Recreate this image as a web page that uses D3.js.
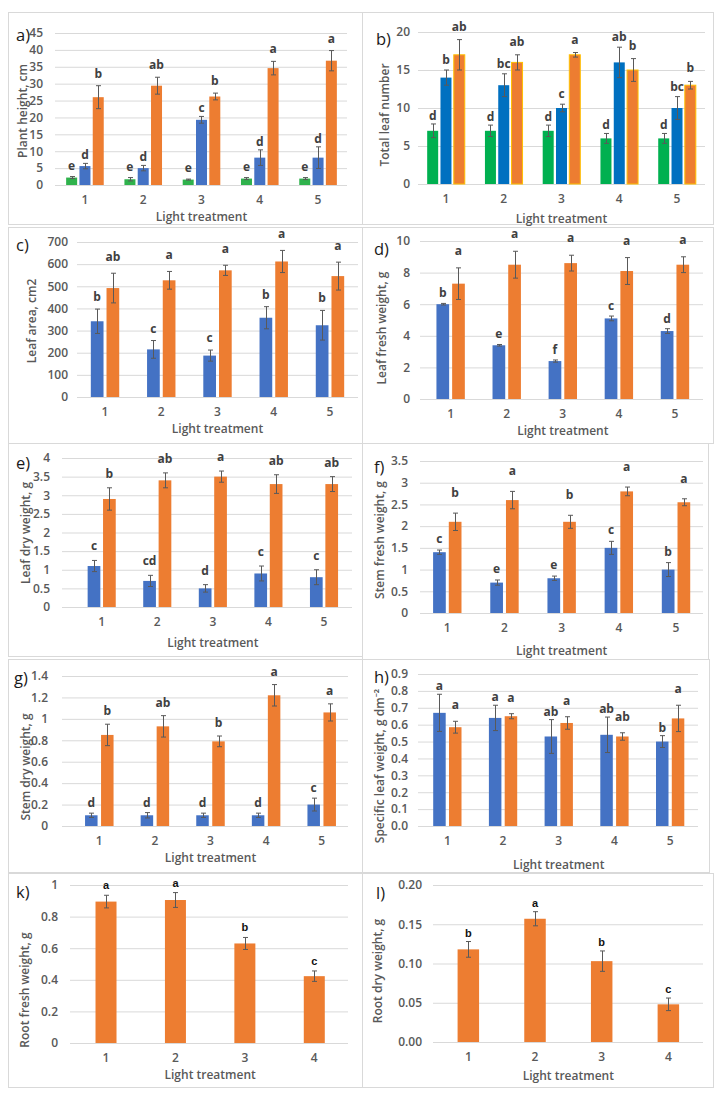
<!DOCTYPE html>
<html><head><meta charset="utf-8">
<script src="https://cdn.jsdelivr.net/npm/d3@7"></script>
<style>body{margin:0;background:#fff}</style>
</head><body>
<svg id="fig" width="725" height="1100"></svg>
<script>
// ---------- DATA ----------
const cats5 = ["1", "2", "3", "4", "5"];
const cats4 = ["1", "2", "3", "4"];

// a) Plant height, cm
const heightGreen = [2.2, 1.7, 1.6, 1.9, 1.9];
const heightGreenErr = [0.3, 0.5, 0.15, 0.3, 0.3];
const heightGreenSig = ["e", "e", "e", "e", "e"];
const heightBlue = [5.6, 5.0, 19.3, 8.1, 8.1];
const heightBlueErr = [0.8, 0.8, 1.0, 2.3, 3.2];
const heightBlueSig = ["d", "d", "c", "d", "d"];
const heightOrange = [26.0, 29.4, 26.2, 34.6, 36.8];
const heightOrangeErr = [3.4, 2.5, 1.0, 2.0, 3.0];
const heightOrangeSig = ["b", "ab", "b", "a", "a"];
const heightTicks = [0, 5, 10, 15, 20, 25, 30, 35, 40, 45];

// b) Total leaf number
const leafGreen = [7, 7, 7, 6, 6];
const leafGreenErr = [0.9, 0.75, 0.75, 0.65, 0.65];
const leafGreenSig = ["d", "d", "d", "d", "d"];
const leafBlue = [14, 13, 10, 16, 10];
const leafBlueErr = [1.0, 1.5, 0.5, 2.0, 1.5];
const leafBlueSig = ["b", "bc", "c", "ab", "bc"];
const leafOrange = [17, 16, 17, 15, 13];
const leafOrangeErr = [2.0, 1.0, 0.3, 1.5, 0.5];
const leafOrangeSig = ["ab", "ab", "a", "b", "b"];
const leafTicks = [0, 5, 10, 15, 20];

// c) Leaf area, cm2
const areaBlue = [342, 215, 187, 358, 324];
const areaBlueErr = [55, 40, 25, 50, 67];
const areaBlueSig = ["b", "c", "c", "b", "b"];
const areaOrange = [492, 527, 572, 612, 546];
const areaOrangeErr = [67, 40, 23, 50, 63];
const areaOrangeSig = ["ab", "a", "a", "a", "a"];
const areaTicks = [0, 100, 200, 300, 400, 500, 600, 700];

// d) Leaf fresh weight, g
const lfwBlue = [6.0, 3.4, 2.4, 5.1, 4.3];
const lfwBlueErr = [0.05, 0.05, 0.07, 0.15, 0.15];
const lfwBlueSig = ["b", "e", "f", "c", "d"];
const lfwOrange = [7.3, 8.5, 8.6, 8.1, 8.5];
const lfwOrangeErr = [1.0, 0.85, 0.5, 0.85, 0.5];
const lfwOrangeSig = ["a", "a", "a", "a", "a"];
const lfwTicks = [0, 2, 4, 6, 8, 10];

// e) Leaf dry weight, g
const ldwBlue = [1.1, 0.7, 0.5, 0.9, 0.8];
const ldwBlueErr = [0.15, 0.15, 0.1, 0.2, 0.2];
const ldwBlueSig = ["c", "cd", "d", "c", "c"];
const ldwOrange = [2.9, 3.4, 3.5, 3.3, 3.3];
const ldwOrangeErr = [0.3, 0.2, 0.15, 0.25, 0.2];
const ldwOrangeSig = ["b", "ab", "a", "ab", "ab"];
const ldwTicks = [0, 0.5, 1, 1.5, 2, 2.5, 3, 3.5, 4];

// f) Stem fresh weight, g
const sfwBlue = [1.4, 0.7, 0.8, 1.5, 1.0];
const sfwBlueErr = [0.05, 0.06, 0.05, 0.15, 0.16];
const sfwBlueSig = ["c", "e", "e", "c", "b"];
const sfwOrange = [2.1, 2.6, 2.1, 2.8, 2.55];
const sfwOrangeErr = [0.2, 0.2, 0.15, 0.1, 0.08];
const sfwOrangeSig = ["b", "a", "b", "a", "a"];
const sfwTicks = [0, 0.5, 1, 1.5, 2, 2.5, 3, 3.5];

// g) Stem dry weight, g
const sdwBlue = [0.1, 0.1, 0.1, 0.1, 0.2];
const sdwBlueErr = [0.02, 0.025, 0.02, 0.02, 0.06];
const sdwBlueSig = ["d", "d", "d", "d", "c"];
const sdwOrange = [0.85, 0.93, 0.79, 1.22, 1.06];
const sdwOrangeErr = [0.1, 0.1, 0.05, 0.1, 0.08];
const sdwOrangeSig = ["b", "ab", "b", "a", "a"];
const sdwTicks = [0, 0.2, 0.4, 0.6, 0.8, 1, 1.2, 1.4];

// h) Specific leaf weight, g dm-2
const slwBlue = [0.67, 0.64, 0.53, 0.54, 0.50];
const slwBlueErr = [0.11, 0.075, 0.10, 0.105, 0.035];
const slwBlueSig = ["a", "a", "ab", "ab", "b"];
const slwOrange = [0.585, 0.65, 0.61, 0.53, 0.637];
const slwOrangeErr = [0.035, 0.015, 0.037, 0.022, 0.078];
const slwOrangeSig = ["a", "a", "a", "ab", "a"];
const slwTicks = [0, 0.1, 0.2, 0.3, 0.4, 0.5, 0.6, 0.7, 0.8, 0.9];

// k) Root fresh weight, g
const rfwOrange = [0.895, 0.905, 0.63, 0.423];
const rfwOrangeErr = [0.04, 0.047, 0.038, 0.033];
const rfwOrangeSig = ["a", "a", "b", "c"];
const rfwTicks = [0, 0.2, 0.4, 0.6, 0.8, 1];

// l) Root dry weight, g
const rdwOrange = [0.118, 0.157, 0.103, 0.048];
const rdwOrangeErr = [0.01, 0.009, 0.013, 0.008];
const rdwOrangeSig = ["b", "a", "b", "c"];
const rdwTicks = [0, 0.05, 0.10, 0.15, 0.20];

// ---------- STYLE / LAYOUT ----------
const C = {
  greenA: "#2FB24C", blueA: "#4472C4", orange: "#ED7D31",
  greenB: "#00B050", blueB: "#0070C0", goldB: "#FFC000",
  grid: "#D9D9D9", text: "#595959", sig: "#404040", err: "#595959"
};
const FONT = "'Open Sans', 'Noto Sans', sans-serif";
const gen = d => String(+d.toFixed(4));

const panels = [
  { tag: "a)", box: [8, 12, 362, 224], grid: [55, 347], band: [55.8, 347.2], yr: [185, 33], domain: [0, 45],
    ticks: heightTicks, fmt: gen, pad: 12, tagPos: [16, 41], yt: "Plant height, cm", ytPos: [23, 111], xtY: 220,
    cats: cats5, barW: 11, gap: 2.3, letter: "mid",
    series: [
      { v: heightGreen, e: heightGreenErr, s: heightGreenSig, fill: C.greenA, lg: 7 },
      { v: heightBlue, e: heightBlueErr, s: heightBlueSig, fill: C.blueA, lg: 4 },
      { v: heightOrange, e: heightOrangeErr, s: heightOrangeSig, fill: C.orange, lg: 8 }] },
  { tag: "b)", box: [362, 12, 713, 224], grid: [418, 705], band: [417.1, 705.9], yr: [184, 32], domain: [0, 20],
    ticks: leafTicks, fmt: gen, pad: 8, tagPos: [376, 45], yt: "Total leaf number", ytPos: [385, 115], xtY: 223,
    cats: cats5, barW: 11, gap: 2.3, letter: "mid",
    series: [
      { v: leafGreen, e: leafGreenErr, s: leafGreenSig, fill: C.greenB, lg: 4 },
      { v: leafBlue, e: leafBlueErr, s: leafBlueSig, fill: C.blueB, lg: 6 },
      { v: leafOrange, e: leafOrangeErr, s: leafOrangeSig, fill: C.orange, stroke: C.goldB, lg: 9 }] },
  { tag: "c)", box: [8, 227, 362, 443], grid: [77, 358], band: [76.9, 358.1], yr: [397, 242], domain: [0, 700],
    ticks: areaTicks, fmt: gen, pad: 9, tagPos: [16, 251], yt: "Leaf area, cm2", ytPos: [32, 321], xtY: 432,
    cats: cats5, barW: 12.7, gap: 3, letter: "mid",
    series: [
      { v: areaBlue, e: areaBlueErr, s: areaBlueSig, fill: C.blueA, lg: 8 },
      { v: areaOrange, e: areaOrangeErr, s: areaOrangeSig, fill: C.orange, lg: 12 }] },
  { tag: "d)", box: [362, 227, 713, 443], grid: [420, 703], band: [422.6, 703], yr: [399, 241], domain: [0, 10],
    ticks: lfwTicks, fmt: gen, pad: 10, tagPos: [374, 255], yt: "Leaf fresh weight, g", ytPos: [382, 328], xtY: 434,
    cats: cats5, barW: 12.7, gap: 3, letter: "mid",
    series: [
      { v: lfwBlue, e: lfwBlueErr, s: lfwBlueSig, fill: C.blueA, lg: 6 },
      { v: lfwOrange, e: lfwOrangeErr, s: lfwOrangeSig, fill: C.orange, lg: 13 }] },
  { tag: "e)", box: [8, 443, 362, 656], grid: [62, 352], band: [73.9, 351.8], yr: [607, 458], domain: [0, 4],
    ticks: ldwTicks, fmt: gen, pad: 12, tagPos: [16, 469], yt: "Leaf dry weight, g", ytPos: [26, 533], xtY: 647,
    cats: cats5, barW: 12.7, gap: 2.7, letter: "mid",
    series: [
      { v: ldwBlue, e: ldwBlueErr, s: ldwBlueSig, fill: C.blueA, lg: 10 },
      { v: ldwOrange, e: ldwOrangeErr, s: ldwOrangeSig, fill: C.orange, lg: 10 }] },
  { tag: "f)", box: [362, 443, 708, 660], grid: [420, 703], band: [418.7, 704.6], yr: [613, 461], domain: [0, 3.5],
    ticks: sfwTicks, fmt: gen, pad: 12, tagPos: [374, 473], yt: "Stem fresh weight, g", ytPos: [380, 540], xtY: 655,
    cats: cats5, barW: 12.7, gap: 3, letter: "mid",
    series: [
      { v: sfwBlue, e: sfwBlueErr, s: sfwBlueSig, fill: C.blueA, lg: 7 },
      { v: sfwOrange, e: sfwOrangeErr, s: sfwOrangeSig, fill: C.orange, lg: 16 }] },
  { tag: "g)", box: [8, 659, 362, 872], grid: [62, 348], band: [71.5, 349.5], yr: [826, 676], domain: [0, 1.4],
    ticks: sdwTicks, fmt: gen, pad: 14, tagPos: [14, 684], yt: "Stem dry weight, g", ytPos: [26, 767], xtY: 862,
    cats: cats5, barW: 12.5, gap: 3.5, letter: "mid",
    series: [
      { v: sdwBlue, e: sdwBlueErr, s: sdwBlueSig, fill: C.blueA, lg: 6 },
      { v: sdwOrange, e: sdwOrangeErr, s: sdwOrangeSig, fill: C.orange, lg: 9 }] },
  { tag: "h)", box: [362, 659, 709, 872], grid: [418, 698], band: [419.5, 698], yr: [826, 674], domain: [0, 0.9],
    ticks: slwTicks, fmt: d3.format(".1f"), pad: 10, tagPos: [374, 683], yt: "Specific leaf weight, g dm\u207B\u00B2", ytPos: [380, 766], xtY: 869,
    cats: cats5, barW: 12.5, gap: 3.3, letter: "mid",
    series: [
      { v: slwBlue, e: slwBlueErr, s: slwBlueSig, fill: C.blueA, lg: 4 },
      { v: slwOrange, e: slwOrangeErr, s: slwOrangeSig, fill: C.orange, lg: 12 }] },
  { tag: "k)", box: [8, 873, 362, 1087], grid: [70, 348], band: [71.3, 349], yr: [1043, 885], domain: [0, 1],
    ticks: rfwTicks, fmt: gen, pad: 12, tagPos: [16, 898], yt: "Root fresh weight, g", ytPos: [25, 990], xtY: 1079,
    cats: cats4, barW: 21, gap: 0, letter: "root",
    series: [
      { v: rfwOrange, e: rfwOrangeErr, s: rfwOrangeSig, fill: C.orange, lg: 6 }] },
  { tag: "l)", box: [362, 873, 713, 1087], grid: [433, 703], band: [435, 701.7], yr: [1042, 885], domain: [0, 0.2],
    ticks: rdwTicks, fmt: d3.format(".2f"), pad: 11, tagPos: [376, 899], yt: "Root dry weight, g", ytPos: [378, 971], xtY: 1080,
    cats: cats4, barW: 21.5, gap: 0, letter: "root",
    series: [
      { v: rdwOrange, e: rdwOrangeErr, s: rdwOrangeSig, fill: C.orange, lg: 5 }] }
];

// ---------- DRAW ----------
const svg = d3.select("#fig");
svg.append("rect").attr("width", 725).attr("height", 1100).attr("fill", "#fff");

panels.forEach(p => {
  const g = svg.append("g");
  g.append("rect")
    .attr("x", p.box[0] + 0.5).attr("y", p.box[1] + 0.5)
    .attr("width", p.box[2] - p.box[0]).attr("height", p.box[3] - p.box[1])
    .attr("fill", "#fff").attr("stroke", C.grid).attr("stroke-width", 1);

  const y = d3.scaleLinear().domain(p.domain).range(p.yr);
  const x = d3.scaleBand().domain(p.cats).range(p.band);

  // gridlines
  g.append("g")
    .attr("transform", `translate(${p.grid[0]},0)`)
    .call(d3.axisLeft(y).tickValues(p.ticks).tickSize(-(p.grid[1] - p.grid[0])).tickFormat(""))
    .call(s => s.select(".domain").remove())
    .selectAll("line").attr("stroke", C.grid).attr("stroke-width", 1);

  // y tick labels
  g.append("g")
    .attr("transform", `translate(${p.grid[0] - p.pad},0)`)
    .call(d3.axisLeft(y).tickValues(p.ticks).tickFormat(p.fmt).tickSize(0).tickPadding(0))
    .call(s => s.select(".domain").remove())
    .attr("font-family", FONT).attr("font-size", 12)
    .selectAll("text").attr("fill", C.text).attr("font-weight", 600);

  // x category labels
  g.append("g")
    .attr("transform", `translate(0,${p.yr[0]})`)
    .call(d3.axisBottom(x).tickSize(0).tickPadding(0))
    .call(s => s.select(".domain").remove())
    .attr("font-family", FONT).attr("font-size", 12)
    .selectAll("text").attr("fill", C.text).attr("font-weight", 600)
    .attr("dy", null).attr("y", 19);

  // bars
  const n = p.series.length;
  const groupW = n * p.barW + (n - 1) * p.gap;
  p.series.forEach((s, i) => {
    const cx = c => x(c) + x.bandwidth() / 2 - groupW / 2 + i * (p.barW + p.gap) + p.barW / 2;
    const data = p.cats.map((c, j) => ({ c, v: s.v[j], e: s.e[j], s: s.s[j] }));
    g.append("g").selectAll("rect").data(data).join("rect")
      .attr("x", d => cx(d.c) - p.barW / 2)
      .attr("y", d => y(d.v))
      .attr("width", p.barW)
      .attr("height", d => y(0) - y(d.v))
      .attr("fill", s.fill)
      .attr("stroke", s.stroke || "none")
      .attr("stroke-width", s.stroke ? 1 : 0);

    const eg = g.append("g").attr("stroke", C.err).attr("stroke-width", 1);
    data.forEach(d => {
      const xc = Math.round(cx(d.c)) + 0.5;
      const y1 = y(d.v + d.e), y2 = y(Math.max(0, d.v - d.e));
      eg.append("line").attr("x1", xc).attr("x2", xc).attr("y1", y1).attr("y2", y2);
      eg.append("line").attr("x1", xc - 2.5).attr("x2", xc + 2.5).attr("y1", y1).attr("y2", y1);
      eg.append("line").attr("x1", xc - 2.5).attr("x2", xc + 2.5).attr("y1", y2).attr("y2", y2);
    });

    g.append("g").selectAll("text").data(data).join("text")
      .attr("x", d => cx(d.c))
      .attr("y", d => y(d.v + d.e) - s.lg)
      .attr("text-anchor", "middle")
      .attr("font-family", p.letter === "root" ? "'Liberation Sans', Arial, sans-serif" : FONT)
      .attr("font-size", p.letter === "root" ? 11 : 12)
      .attr("font-weight", 700)
      .attr("fill", p.letter === "root" ? "#111" : C.sig)
      .text(d => d.s);
  });

  // axis titles
  g.append("text")
    .attr("x", (p.band[0] + p.band[1]) / 2).attr("y", Math.max(p.xtY, p.yr[0] + 36))
    .attr("text-anchor", "middle")
    .attr("font-family", FONT).attr("font-size", 12).attr("font-weight", 600)
    .attr("fill", C.text).text("Light treatment");

  g.append("text")
    .attr("transform", `translate(${p.ytPos[0]},${p.ytPos[1]}) rotate(-90)`)
    .attr("dy", "0.35em")
    .attr("text-anchor", "middle")
    .attr("font-family", FONT).attr("font-size", 12).attr("font-weight", 600)
    .attr("fill", C.text).text(p.yt);

  // panel tag
  g.append("text")
    .attr("x", p.tagPos[0]).attr("y", p.tagPos[1])
    .attr("font-family", FONT).attr("font-size", 16.5)
    .attr("fill", "#1a1a1a").text(p.tag);
});
</script>
</body></html>
